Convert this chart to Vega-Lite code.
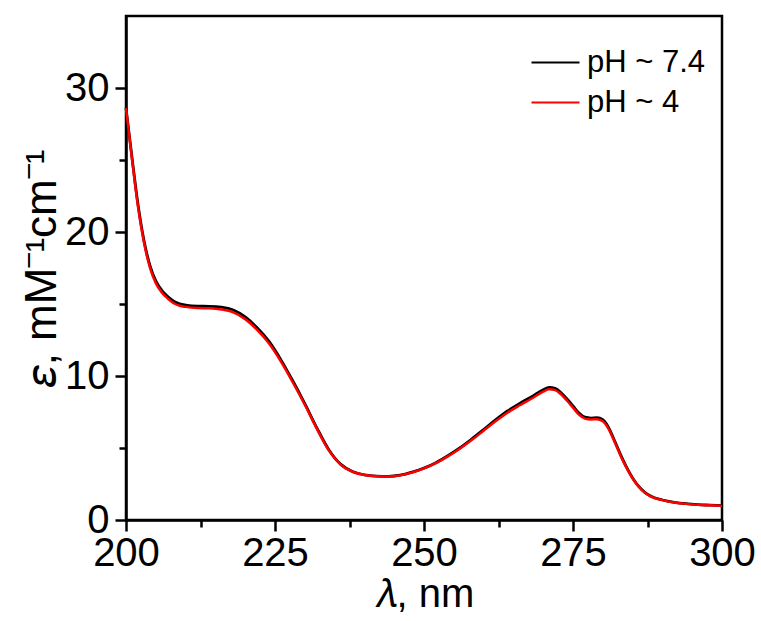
{
  "$schema": "https://vega.github.io/schema/vega-lite/v6.json",
  "width": 596,
  "height": 504,
  "autosize": {"type": "none"},
  "padding": {"left": 126, "top": 16, "right": 39, "bottom": 101},
  "background": "white",
  "config": {"view": {"stroke": "black", "strokeWidth": 2.5}, "font": "Liberation Sans"},
  "datasets": {
    "a": [
      {"l":200,"e":28.6,"s":"pH ~ 7.4"},{"l":201,"e":25.2,"s":"pH ~ 7.4"},{"l":202,"e":21.95,"s":"pH ~ 7.4"},{"l":203,"e":19.45,"s":"pH ~ 7.4"},{"l":204,"e":17.7,"s":"pH ~ 7.4"},{"l":205,"e":16.6,"s":"pH ~ 7.4"},{"l":206,"e":15.95,"s":"pH ~ 7.4"},{"l":207,"e":15.52,"s":"pH ~ 7.4"},{"l":208,"e":15.2,"s":"pH ~ 7.4"},{"l":209,"e":15.02,"s":"pH ~ 7.4"},{"l":210,"e":14.93,"s":"pH ~ 7.4"},{"l":212,"e":14.85,"s":"pH ~ 7.4"},{"l":214,"e":14.84,"s":"pH ~ 7.4"},{"l":216,"e":14.78,"s":"pH ~ 7.4"},{"l":218,"e":14.58,"s":"pH ~ 7.4"},{"l":220,"e":14.1,"s":"pH ~ 7.4"},{"l":222,"e":13.35,"s":"pH ~ 7.4"},{"l":224,"e":12.4,"s":"pH ~ 7.4"},{"l":226,"e":11.12,"s":"pH ~ 7.4"},{"l":228,"e":9.65,"s":"pH ~ 7.4"},{"l":230,"e":8.08,"s":"pH ~ 7.4"},{"l":232,"e":6.42,"s":"pH ~ 7.4"},{"l":234,"e":4.9,"s":"pH ~ 7.4"},{"l":236,"e":3.88,"s":"pH ~ 7.4"},{"l":238,"e":3.37,"s":"pH ~ 7.4"},{"l":240,"e":3.14,"s":"pH ~ 7.4"},{"l":242,"e":3.05,"s":"pH ~ 7.4"},{"l":244,"e":3.03,"s":"pH ~ 7.4"},{"l":246,"e":3.11,"s":"pH ~ 7.4"},{"l":248,"e":3.32,"s":"pH ~ 7.4"},{"l":250,"e":3.6,"s":"pH ~ 7.4"},{"l":252,"e":3.98,"s":"pH ~ 7.4"},{"l":254,"e":4.46,"s":"pH ~ 7.4"},{"l":256,"e":5.0,"s":"pH ~ 7.4"},{"l":258,"e":5.62,"s":"pH ~ 7.4"},{"l":260,"e":6.28,"s":"pH ~ 7.4"},{"l":262,"e":6.95,"s":"pH ~ 7.4"},{"l":264,"e":7.57,"s":"pH ~ 7.4"},{"l":266,"e":8.08,"s":"pH ~ 7.4"},{"l":268,"e":8.55,"s":"pH ~ 7.4"},{"l":270,"e":9.05,"s":"pH ~ 7.4"},{"l":271,"e":9.2,"s":"pH ~ 7.4"},{"l":272,"e":9.14,"s":"pH ~ 7.4"},{"l":273,"e":8.84,"s":"pH ~ 7.4"},{"l":274,"e":8.4,"s":"pH ~ 7.4"},{"l":275,"e":7.92,"s":"pH ~ 7.4"},{"l":276,"e":7.43,"s":"pH ~ 7.4"},{"l":277,"e":7.14,"s":"pH ~ 7.4"},{"l":278,"e":7.08,"s":"pH ~ 7.4"},{"l":279,"e":7.1,"s":"pH ~ 7.4"},{"l":280,"e":6.96,"s":"pH ~ 7.4"},{"l":281,"e":6.4,"s":"pH ~ 7.4"},{"l":282,"e":5.48,"s":"pH ~ 7.4"},{"l":283,"e":4.52,"s":"pH ~ 7.4"},{"l":284,"e":3.65,"s":"pH ~ 7.4"},{"l":285,"e":2.92,"s":"pH ~ 7.4"},{"l":286,"e":2.35,"s":"pH ~ 7.4"},{"l":287,"e":1.94,"s":"pH ~ 7.4"},{"l":288,"e":1.66,"s":"pH ~ 7.4"},{"l":290,"e":1.39,"s":"pH ~ 7.4"},{"l":292,"e":1.23,"s":"pH ~ 7.4"},{"l":294,"e":1.13,"s":"pH ~ 7.4"},{"l":296,"e":1.07,"s":"pH ~ 7.4"},{"l":298,"e":1.03,"s":"pH ~ 7.4"},{"l":300,"e":0.99,"s":"pH ~ 7.4"}
    ],
    "b": [
      {"l":200,"e":28.6,"s":"pH ~ 4"},{"l":201,"e":25.1,"s":"pH ~ 4"},{"l":202,"e":21.8,"s":"pH ~ 4"},{"l":203,"e":19.3,"s":"pH ~ 4"},{"l":204,"e":17.55,"s":"pH ~ 4"},{"l":205,"e":16.45,"s":"pH ~ 4"},{"l":206,"e":15.8,"s":"pH ~ 4"},{"l":207,"e":15.38,"s":"pH ~ 4"},{"l":208,"e":15.05,"s":"pH ~ 4"},{"l":209,"e":14.88,"s":"pH ~ 4"},{"l":210,"e":14.8,"s":"pH ~ 4"},{"l":212,"e":14.72,"s":"pH ~ 4"},{"l":214,"e":14.7,"s":"pH ~ 4"},{"l":216,"e":14.62,"s":"pH ~ 4"},{"l":218,"e":14.42,"s":"pH ~ 4"},{"l":220,"e":13.95,"s":"pH ~ 4"},{"l":222,"e":13.2,"s":"pH ~ 4"},{"l":224,"e":12.25,"s":"pH ~ 4"},{"l":226,"e":11.0,"s":"pH ~ 4"},{"l":228,"e":9.55,"s":"pH ~ 4"},{"l":230,"e":8.0,"s":"pH ~ 4"},{"l":232,"e":6.35,"s":"pH ~ 4"},{"l":234,"e":4.85,"s":"pH ~ 4"},{"l":236,"e":3.85,"s":"pH ~ 4"},{"l":238,"e":3.35,"s":"pH ~ 4"},{"l":240,"e":3.13,"s":"pH ~ 4"},{"l":242,"e":3.04,"s":"pH ~ 4"},{"l":244,"e":3.02,"s":"pH ~ 4"},{"l":246,"e":3.1,"s":"pH ~ 4"},{"l":248,"e":3.3,"s":"pH ~ 4"},{"l":250,"e":3.58,"s":"pH ~ 4"},{"l":252,"e":3.95,"s":"pH ~ 4"},{"l":254,"e":4.42,"s":"pH ~ 4"},{"l":256,"e":4.95,"s":"pH ~ 4"},{"l":258,"e":5.55,"s":"pH ~ 4"},{"l":260,"e":6.2,"s":"pH ~ 4"},{"l":262,"e":6.85,"s":"pH ~ 4"},{"l":264,"e":7.45,"s":"pH ~ 4"},{"l":266,"e":7.95,"s":"pH ~ 4"},{"l":268,"e":8.42,"s":"pH ~ 4"},{"l":270,"e":8.92,"s":"pH ~ 4"},{"l":271,"e":9.08,"s":"pH ~ 4"},{"l":272,"e":9.02,"s":"pH ~ 4"},{"l":273,"e":8.72,"s":"pH ~ 4"},{"l":274,"e":8.28,"s":"pH ~ 4"},{"l":275,"e":7.8,"s":"pH ~ 4"},{"l":276,"e":7.32,"s":"pH ~ 4"},{"l":277,"e":7.04,"s":"pH ~ 4"},{"l":278,"e":6.98,"s":"pH ~ 4"},{"l":279,"e":7.0,"s":"pH ~ 4"},{"l":280,"e":6.86,"s":"pH ~ 4"},{"l":281,"e":6.3,"s":"pH ~ 4"},{"l":282,"e":5.4,"s":"pH ~ 4"},{"l":283,"e":4.45,"s":"pH ~ 4"},{"l":284,"e":3.6,"s":"pH ~ 4"},{"l":285,"e":2.88,"s":"pH ~ 4"},{"l":286,"e":2.32,"s":"pH ~ 4"},{"l":287,"e":1.92,"s":"pH ~ 4"},{"l":288,"e":1.64,"s":"pH ~ 4"},{"l":290,"e":1.38,"s":"pH ~ 4"},{"l":292,"e":1.22,"s":"pH ~ 4"},{"l":294,"e":1.12,"s":"pH ~ 4"},{"l":296,"e":1.06,"s":"pH ~ 4"},{"l":298,"e":1.02,"s":"pH ~ 4"},{"l":300,"e":0.98,"s":"pH ~ 4"}
    ]
  },
  "encoding": {
    "x": {
      "field": "l", "type": "quantitative",
      "scale": {"domain": [200, 300], "nice": false, "zero": false},
      "axis": {
        "values": [200, 212.5, 225, 237.5, 250, 262.5, 275, 287.5, 300],
        "labelExpr": "datum.value % 25 === 0 ? datum.label : ''",
        "tickSize": {"condition": {"test": "datum.value % 25 === 0", "value": 11}, "value": 7},
        "tickWidth": 2.5, "tickColor": "black",
        "domainWidth": 2.5, "domainColor": "black",
        "grid": false, "labelFlush": false, "labelOverlap": false,
        "labelFontSize": 40, "labelColor": "black", "labelPadding": 2,
        "title": "𝜆, nm", "titleFontSize": 40, "titleFontWeight": "normal", "titleColor": "black", "titlePadding": 1
      }
    },
    "y": {
      "field": "e", "type": "quantitative",
      "scale": {"domain": [0, 35], "nice": false},
      "axis": {
        "values": [0, 5, 10, 15, 20, 25, 30],
        "labelExpr": "datum.value % 10 === 0 ? datum.label : ''",
        "tickSize": {"condition": {"test": "datum.value % 10 === 0", "value": 11}, "value": 7},
        "tickWidth": 2.5, "tickColor": "black",
        "domainWidth": 2.5, "domainColor": "black",
        "grid": false, "labelFlush": false, "labelOverlap": false,
        "labelFontSize": 40, "labelColor": "black", "labelPadding": 6,
        "title": "𝜀, mM⁻¹cm⁻¹", "titleFontSize": 44, "titleFontWeight": "normal", "titleColor": "black", "titlePadding": 0
      }
    },
    "color": {
      "field": "s", "type": "nominal",
      "scale": {"domain": ["pH ~ 7.4", "pH ~ 4"], "range": ["#000000", "#ff0000"]},
      "legend": {
        "orient": "none", "legendX": 414, "legendY": 31, "title": null,
        "symbolType": "M-2,0H2", "symbolSize": 576, "symbolStrokeWidth": 2,
        "labelFontSize": 31, "labelOffset": 16, "rowPadding": 8, "labelColor": "black", "padding": 0
      }
    }
  },
  "layer": [
    {"data": {"name": "a"}, "mark": {"type": "line", "strokeWidth": 2.8, "interpolate": "monotone"}},
    {"data": {"name": "b"}, "mark": {"type": "line", "strokeWidth": 2.5, "interpolate": "monotone"}}
  ]
}
